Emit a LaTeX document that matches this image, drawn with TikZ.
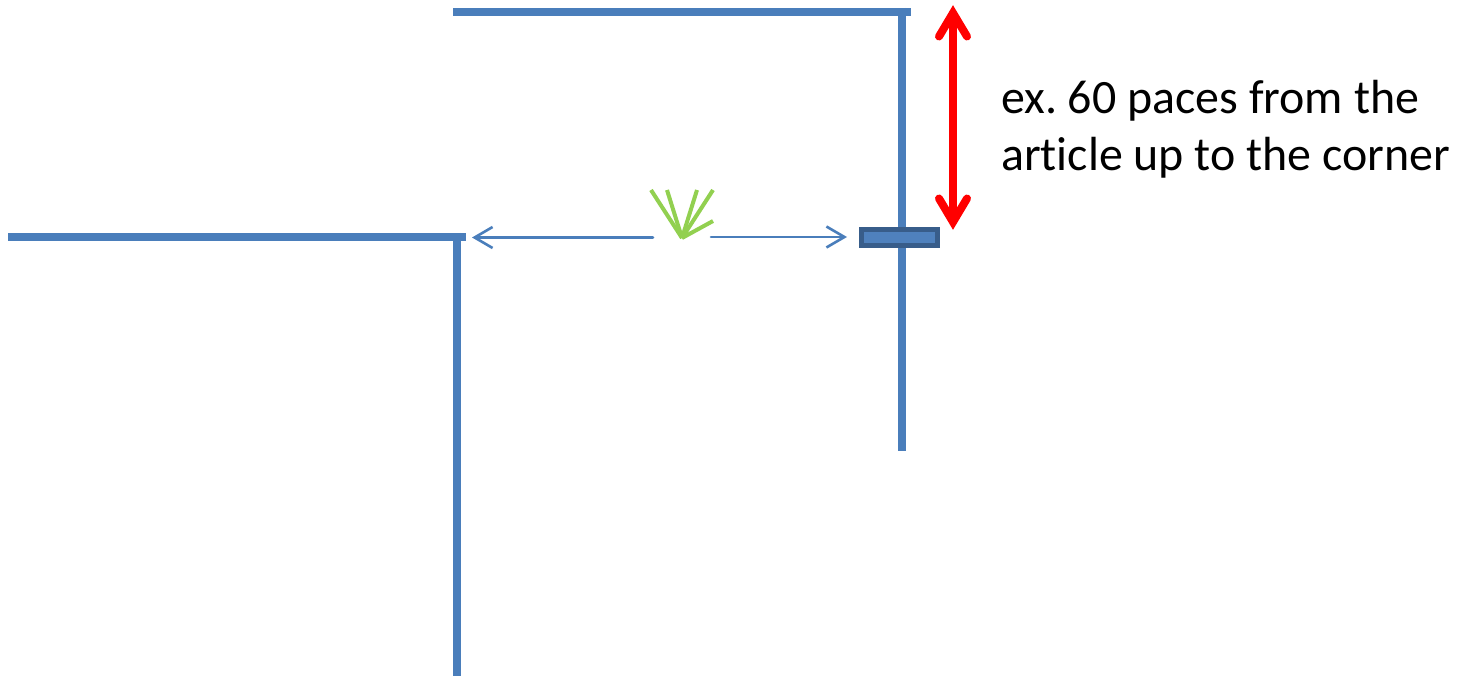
\documentclass[tikz,border=0pt]{standalone}
\usepackage{fontspec}
\setmainfont{Carlito}
\usetikzlibrary{arrows.meta}
\definecolor{wall}{HTML}{4A7EBB}
\definecolor{wallFill}{HTML}{4F81BD}
\definecolor{wallEdge}{HTML}{385D8A}
\definecolor{grass}{HTML}{92D050}
\tikzset{
  wallline/.style={draw=wall,line width=8pt},
  thinarrow/.style={draw=wall,line width=2.6pt,line cap=round,-{Straight Barb[length=18pt,width=21pt,line width=2.6pt]}},
  redshaft/.style={draw=red,line width=8pt},
  redhead/.style={draw=red,line width=8pt,line cap=round,line join=miter,miter limit=10},
  blade/.style={draw=grass,line width=4pt},
  label/.style={anchor=base west,inner sep=0pt,font=\fontsize{47.9}{57}\selectfont}
}
\begin{document}
\frenchspacing
\begin{tikzpicture}[x=1pt,y=-1pt]
\useasboundingbox (0,0) rectangle (1466,676);
% walls
\draw[wallline] (453,12) -- (911,12);
\draw[wallline] (902,8) -- (902,451);
\draw[wallline] (8,237) -- (466,237);
\draw[wallline] (457,233) -- (457,676);
% article
\node[draw=wallEdge,fill=wallFill,line width=5pt,minimum width=76pt,minimum height=16pt,inner sep=0pt] (article) at (899.5,237.5) {};
% red arrow
\coordinate (rt) at (953,13);
\coordinate (rb) at (953,222);
\draw[redshaft] (rt) -- (rb);
\draw[redhead] (939,36.5) -- (rt) -- (967,36.5);
\draw[redhead] (939,198.5) -- (rb) -- (967,198.5);
% thin arrows
\coordinate (lstart) at (653,237.5);
\coordinate (lend) at (472,237.5);
\coordinate (rstart) at (711,237);
\coordinate (rend) at (847,237);
\draw[thinarrow] (lstart) -- (lend);
\draw[thinarrow] (rstart) -- (rend);
% grass
\coordinate (g) at (682,238);
\draw[blade] (g) -- (651,190);
\draw[blade] (g) -- (667,190);
\draw[blade] (g) -- (697,190);
\draw[blade] (g) -- (713,190);
\draw[blade] (g) -- (713,221);
% label
\node[label] (t1) at (1001,113.5) {ex. 60 paces from the};
\node[label] (t2) at (1001,170.5) {art{}\kern0pt icle up to the corner};
\end{tikzpicture}
\end{document}
